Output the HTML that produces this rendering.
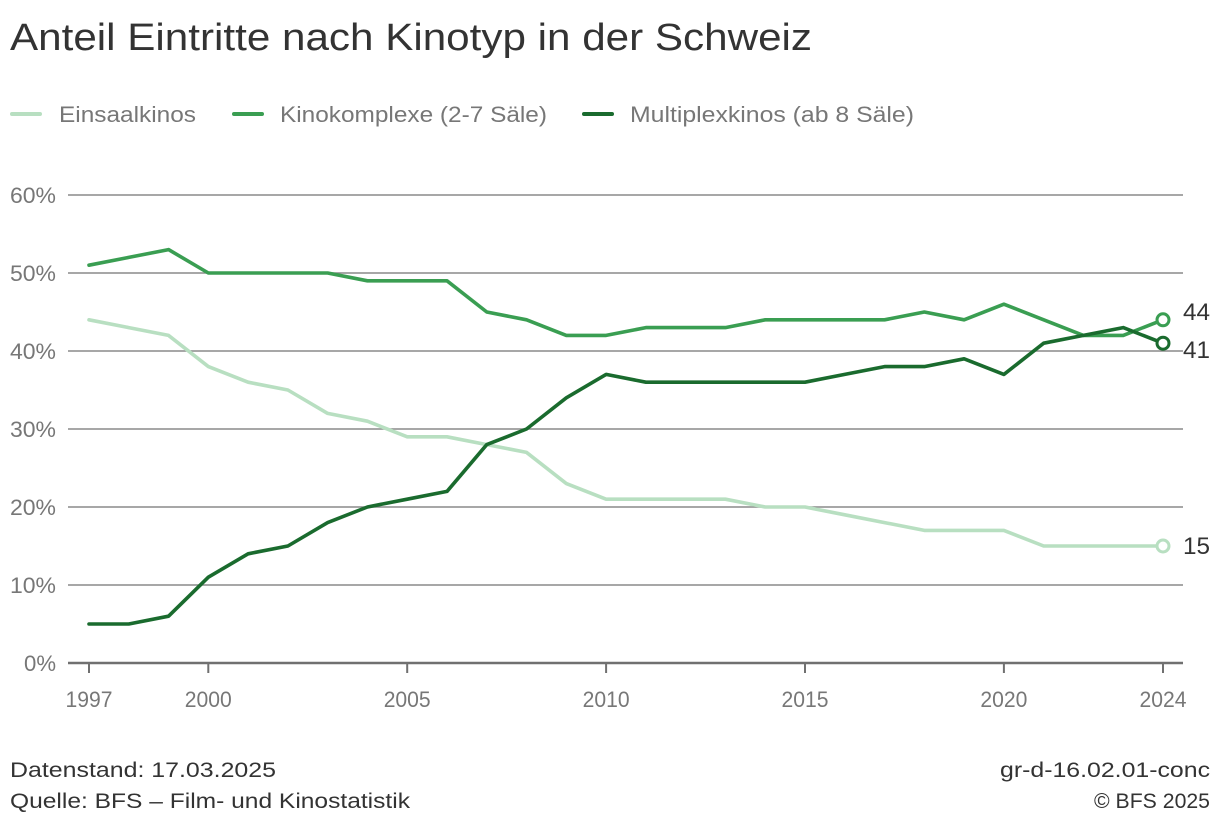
<!DOCTYPE html>
<html><head><meta charset="utf-8"><style>
html,body{margin:0;padding:0;background:#fff;}
svg{display:block;font-family:"Liberation Sans",Arial,sans-serif;}
</style></head><body>
<svg width="1220" height="826" viewBox="0 0 1220 826" xmlns="http://www.w3.org/2000/svg">
<rect width="1220" height="826" fill="#fff"/>
<text x="10" y="50" font-size="38" fill="#333" textLength="802" lengthAdjust="spacingAndGlyphs">Anteil Eintritte nach Kinotyp in der Schweiz</text>

<!-- legend -->
<line x1="12" y1="114" x2="40" y2="114" stroke="#b8dfc1" stroke-width="4" stroke-linecap="round"/>
<text x="59" y="122" font-size="22" fill="#777" textLength="137" lengthAdjust="spacingAndGlyphs">Einsaalkinos</text>
<line x1="234" y1="114" x2="262" y2="114" stroke="#3a9e52" stroke-width="4" stroke-linecap="round"/>
<text x="280" y="122" font-size="22" fill="#777" textLength="267" lengthAdjust="spacingAndGlyphs">Kinokomplexe (2-7 Säle)</text>
<line x1="584" y1="114" x2="612" y2="114" stroke="#1a6b2e" stroke-width="4" stroke-linecap="round"/>
<text x="630" y="122" font-size="22" fill="#777" textLength="284" lengthAdjust="spacingAndGlyphs">Multiplexkinos (ab 8 Säle)</text>

<!-- grid -->
<g stroke="#8a8a8a" stroke-width="1.5">
<line x1="68" y1="195" x2="1183" y2="195"/>
<line x1="68" y1="273" x2="1183" y2="273"/>
<line x1="68" y1="351" x2="1183" y2="351"/>
<line x1="68" y1="429" x2="1183" y2="429"/>
<line x1="68" y1="507" x2="1183" y2="507"/>
<line x1="68" y1="585" x2="1183" y2="585"/>
</g>
<line x1="68" y1="663" x2="1183" y2="663" stroke="#707070" stroke-width="2.5"/>
<g stroke="#707070" stroke-width="2">
<line x1="89" y1="663" x2="89" y2="673"/>
<line x1="208.3" y1="663" x2="208.3" y2="673"/>
<line x1="407.2" y1="663" x2="407.2" y2="673"/>
<line x1="606.1" y1="663" x2="606.1" y2="673"/>
<line x1="805" y1="663" x2="805" y2="673"/>
<line x1="1003.9" y1="663" x2="1003.9" y2="673"/>
<line x1="1163" y1="663" x2="1163" y2="673"/>
</g>

<!-- y labels -->
<g font-size="22" fill="#777">
<text x="10" y="203" textLength="46" lengthAdjust="spacingAndGlyphs">60%</text>
<text x="10" y="281" textLength="46" lengthAdjust="spacingAndGlyphs">50%</text>
<text x="10" y="359" textLength="46" lengthAdjust="spacingAndGlyphs">40%</text>
<text x="10" y="437" textLength="46" lengthAdjust="spacingAndGlyphs">30%</text>
<text x="10" y="515" textLength="46" lengthAdjust="spacingAndGlyphs">20%</text>
<text x="10" y="593" textLength="46" lengthAdjust="spacingAndGlyphs">10%</text>
<text x="24" y="671" textLength="32" lengthAdjust="spacingAndGlyphs">0%</text>
</g>
<!-- x labels -->
<g font-size="22" fill="#777">
<text x="65.5" y="707" textLength="47" lengthAdjust="spacingAndGlyphs">1997</text>
<text x="184.8" y="707" textLength="47" lengthAdjust="spacingAndGlyphs">2000</text>
<text x="383.7" y="707" textLength="47" lengthAdjust="spacingAndGlyphs">2005</text>
<text x="582.6" y="707" textLength="47" lengthAdjust="spacingAndGlyphs">2010</text>
<text x="781.5" y="707" textLength="47" lengthAdjust="spacingAndGlyphs">2015</text>
<text x="980.4" y="707" textLength="47" lengthAdjust="spacingAndGlyphs">2020</text>
<text x="1139.5" y="707" textLength="47" lengthAdjust="spacingAndGlyphs">2024</text>
</g>

<!-- series -->
<g fill="none" stroke-width="3.6" stroke-linejoin="round" stroke-linecap="round">
<polyline stroke="#b8dfc1" points="89,319.8 128.78,327.6 168.56,335.4 208.33,366.6 248.11,382.2 287.89,390 327.67,413.4 367.44,421.2 407.22,436.8 447,436.8 486.78,444.6 526.56,452.4 566.33,483.6 606.11,499.2 645.89,499.2 685.67,499.2 725.44,499.2 765.22,507 805,507 844.78,514.8 884.56,522.6 924.33,530.4 964.11,530.4 1003.89,530.4 1043.67,546 1083.44,546 1123.22,546 1163,546"/>
<polyline stroke="#3a9e52" points="89,265.2 128.78,257.4 168.56,249.6 208.33,273 248.11,273 287.89,273 327.67,273 367.44,280.8 407.22,280.8 447,280.8 486.78,312 526.56,319.8 566.33,335.4 606.11,335.4 645.89,327.6 685.67,327.6 725.44,327.6 765.22,319.8 805,319.8 844.78,319.8 884.56,319.8 924.33,312 964.11,319.8 1003.89,304.2 1043.67,319.8 1083.44,335.4 1123.22,335.4 1163,319.8"/>
<polyline stroke="#1a6b2e" points="89,624 128.78,624 168.56,616.2 208.33,577.2 248.11,553.8 287.89,546 327.67,522.6 367.44,507 407.22,499.2 447,491.4 486.78,444.6 526.56,429 566.33,397.8 606.11,374.4 645.89,382.2 685.67,382.2 725.44,382.2 765.22,382.2 805,382.2 844.78,374.4 884.56,366.6 924.33,366.6 964.11,358.8 1003.89,374.4 1043.67,343.2 1083.44,335.4 1123.22,327.6 1163,343.2"/>
</g>
<g fill="#fff" stroke-width="3">
<circle cx="1163" cy="546" r="6" stroke="#b8dfc1"/>
<circle cx="1163" cy="319.8" r="6" stroke="#3a9e52"/>
<circle cx="1163" cy="343.2" r="6" stroke="#1a6b2e"/>
</g>
<g font-size="24" fill="#333">
<text x="1183" y="320" textLength="27" lengthAdjust="spacingAndGlyphs">44</text>
<text x="1183" y="358" textLength="27" lengthAdjust="spacingAndGlyphs">41</text>
<text x="1183" y="554" textLength="27" lengthAdjust="spacingAndGlyphs">15</text>
</g>

<!-- footer -->
<g font-size="21" fill="#333">
<text x="10" y="777" textLength="266" lengthAdjust="spacingAndGlyphs">Datenstand: 17.03.2025</text>
<text x="10" y="808" textLength="400" lengthAdjust="spacingAndGlyphs">Quelle: BFS – Film- und Kinostatistik</text>
<text x="1000" y="777" textLength="210" lengthAdjust="spacingAndGlyphs">gr-d-16.02.01-conc</text>
<text x="1094" y="808" textLength="116" lengthAdjust="spacingAndGlyphs">© BFS 2025</text>
</g>
</svg>
</body></html>
